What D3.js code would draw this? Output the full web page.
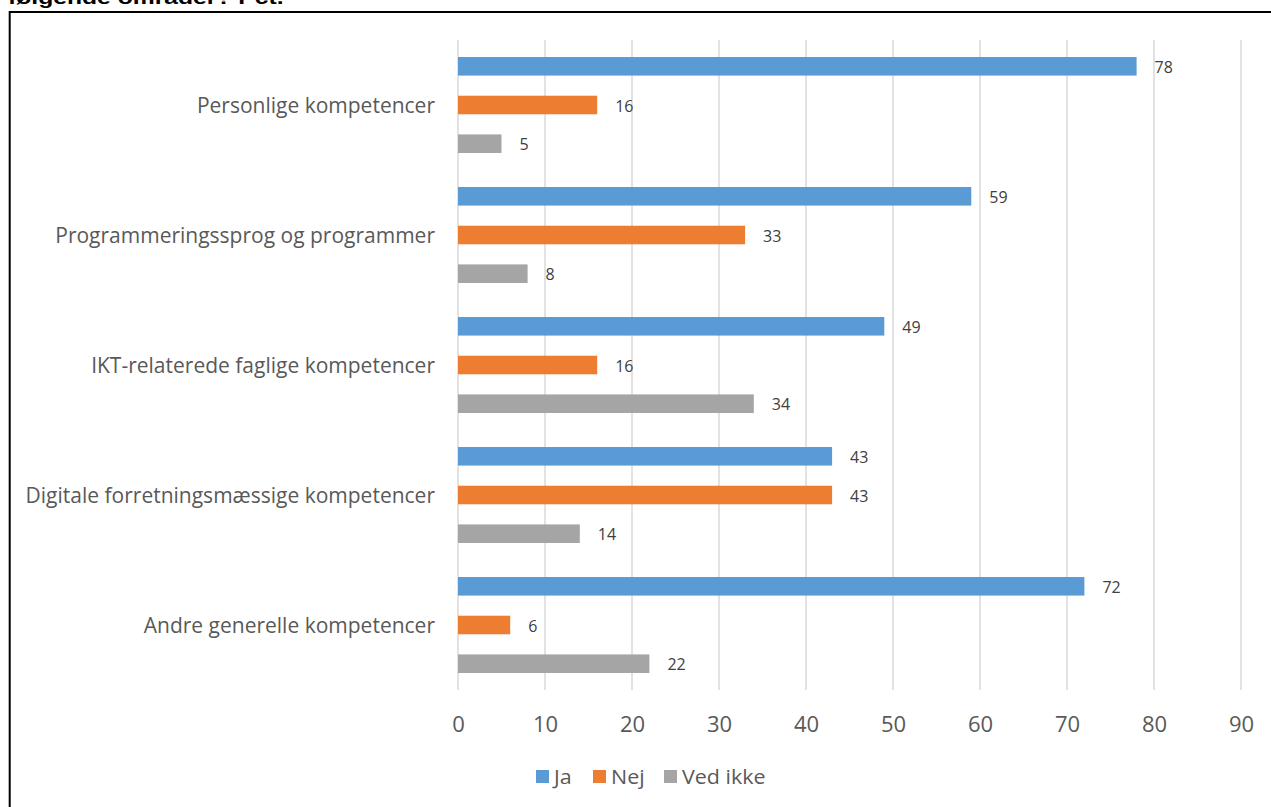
<!DOCTYPE html>
<html>
<head>
<meta charset="utf-8">
<script src="https://cdn.jsdelivr.net/npm/d3@7"></script>
<style>
  html, body { margin: 0; padding: 0; background: #fff; }
  svg { display: block; }
</style>
</head>
<body>
<svg id="chart" width="1271" height="807"></svg>
<script>
// Kompetenceområder (top to bottom) and the share answering Ja / Nej / Ved ikke
const categories = [
  "Personlige kompetencer",
  "Programmeringssprog og programmer",
  "IKT-relaterede faglige kompetencer",
  "Digitale forretningsmæssige kompetencer",
  "Andre generelle kompetencer"
];
const seriesNames = ["Ja", "Nej", "Ved ikke"];
const ja      = [78, 59, 49, 43, 72];
const nej     = [16, 33, 16, 43, 6];
const vedIkke = [5, 8, 34, 14, 22];
const xTicks  = [0, 10, 20, 30, 40, 50, 60, 70, 80, 90];
const colors  = ["#5B9BD5", "#ED7D31", "#A5A5A5"];
const titleText = "følgende områder? Pct.";

const seriesValues = [ja, nej, vedIkke];
const rows = categories.map((c, i) => ({
  category: c,
  values: seriesNames.map((s, k) => ({ series: s, value: seriesValues[k][i], color: colors[k] }))
}));

const svg = d3.select("#chart");
const textColor = "#595959";
const font = "'Open Sans', sans-serif";

// Frame and the heading above it (runs off the top edge)
svg.append("text")
  .attr("transform", "translate(8,3.5) scale(1.3,1)")
  .attr("font-family", "Arial, 'Liberation Sans', sans-serif")
  .attr("font-weight", "bold").attr("font-size", 19)
  .attr("fill", "#000")
  .text(titleText);
svg.append("line").attr("x1", 9).attr("x2", 1271).attr("y1", 12).attr("y2", 12)
  .attr("stroke", "#000").attr("stroke-width", 2);
svg.append("line").attr("x1", 9.7).attr("x2", 9.7).attr("y1", 11).attr("y2", 807)
  .attr("stroke", "#000").attr("stroke-width", 2);

// Scales
const x = d3.scaleLinear().domain([0, 90]).range([458, 1241]);
const y0 = d3.scaleBand().domain(categories).range([40, 690]).padding(0);
const y1 = d3.scaleBand().domain(seriesNames).range([0, y0.bandwidth()])
  .paddingInner(0.52).paddingOuter(0.44);

// Gridlines
svg.append("g")
  .selectAll("line").data(xTicks).join("line")
  .attr("x1", d => x(d)).attr("x2", d => x(d))
  .attr("y1", 40).attr("y2", 690)
  .attr("stroke", "#D9D9D9").attr("stroke-width", 1.5);

// Bars and value labels
const groups = svg.append("g").selectAll("g").data(rows).join("g")
  .attr("transform", d => `translate(0,${y0(d.category)})`);

groups.selectAll("rect").data(d => d.values).join("rect")
  .attr("x", x(0))
  .attr("y", d => y1(d.series))
  .attr("width", d => x(d.value) - x(0))
  .attr("height", y1.bandwidth())
  .attr("fill", d => d.color);

groups.selectAll("text.val").data(d => d.values).join("text")
  .attr("class", "val")
  .attr("x", d => x(d.value) + 18)
  .attr("y", d => y1(d.series) + y1.bandwidth() / 2 + 1)
  .attr("dy", "0.35em")
  .attr("font-family", font).attr("font-size", 16)
  .attr("fill", "#404040")
  .text(d => d.value);

// Category axis labels
const yAxis = d3.axisLeft(y0).tickSize(0).tickPadding(0);
const yg = svg.append("g").attr("transform", `translate(435,0)`).call(yAxis);
yg.select(".domain").remove();
yg.selectAll(".tick text")
  .attr("y", 1)
  .attr("font-family", font).attr("font-size", 21)
  .attr("fill", textColor);

// Value axis tick labels
const xAxis = d3.axisBottom(x).tickValues(xTicks).tickSize(0).tickPadding(0);
const xg = svg.append("g").attr("transform", `translate(0,716)`).call(xAxis);
xg.select(".domain").remove();
xg.selectAll(".tick text")
  .attr("font-family", font).attr("font-size", 22)
  .attr("fill", textColor);

// Legend
const legendX = [536, 593, 664];
const legend = svg.append("g").selectAll("g").data(seriesNames).join("g")
  .attr("transform", (d, i) => `translate(${legendX[i]},770)`);
legend.append("rect")
  .attr("x", 0).attr("y", 0).attr("width", 13).attr("height", 13)
  .attr("fill", (d, i) => colors[i]);
legend.append("text")
  .attr("transform", "translate(18,13.5) scale(1.1,1)")
  .attr("font-family", font).attr("font-size", 19.5)
  .attr("fill", textColor)
  .text(d => d);
</script>
</body>
</html>
